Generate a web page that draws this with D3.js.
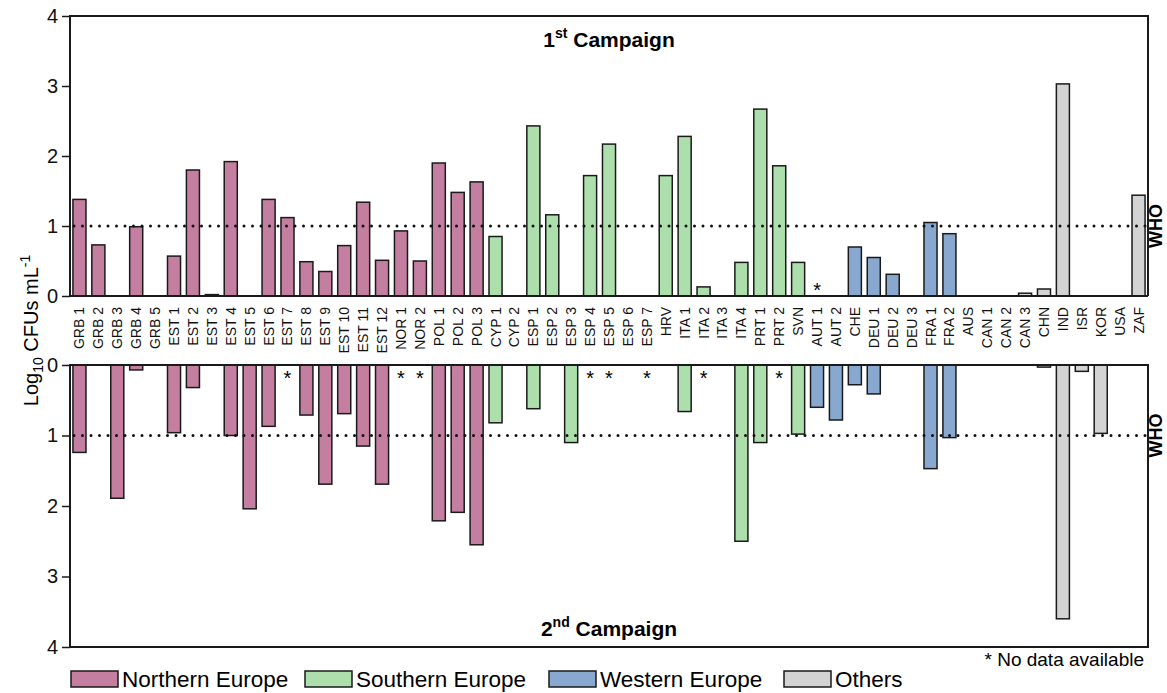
<!DOCTYPE html>
<html>
<head>
<meta charset="utf-8">
<script src="https://cdn.jsdelivr.net/npm/d3@7"></script>
<style>
  body { margin: 0; background: #fff; }
  svg { font-family: "Liberation Sans", Arial, sans-serif; }
</style>
</head>
<body>
<div id="chart"></div>
<script>
// sites, in plotting order
const sites = [
  "GRB 1", "GRB 2", "GRB 3", "GRB 4", "GRB 5",
  "EST 1", "EST 2", "EST 3", "EST 4", "EST 5", "EST 6", "EST 7", "EST 8", "EST 9", "EST 10", "EST 11", "EST 12",
  "NOR 1", "NOR 2", "POL 1", "POL 2", "POL 3",
  "CYP 1", "CYP 2", "ESP 1", "ESP 2", "ESP 3", "ESP 4", "ESP 5", "ESP 6", "ESP 7",
  "HRV", "ITA 1", "ITA 2", "ITA 3", "ITA 4", "PRT 1", "PRT 2", "SVN",
  "AUT 1", "AUT 2", "CHE", "DEU 1", "DEU 2", "DEU 3", "FRA 1", "FRA 2",
  "AUS", "CAN 1", "CAN 2", "CAN 3", "CHN", "IND", "ISR", "KOR", "USA", "ZAF"
];

// region of each site (index into regionNames)
const siteRegion = [
  0, 0, 0, 0, 0,
  0, 0, 0, 0, 0, 0, 0, 0, 0, 0, 0, 0,
  0, 0, 0, 0, 0,
  1, 1, 1, 1, 1, 1, 1, 1, 1,
  1, 1, 1, 1, 1, 1, 1, 1,
  2, 2, 2, 2, 2, 2, 2, 2,
  3, 3, 3, 3, 3, 3, 3, 3, 3, 3
];

const regionNames = ["Northern Europe", "Southern Europe", "Western Europe", "Others"];
const regionColors = ["#c47ea0", "#addfad", "#89a8d0", "#d3d3d3"];

// log10 CFUs/mL, null = no data available
const campaign1 = [
  1.38, 0.73, 0, 0.99, 0,
  0.57, 1.80, 0.02, 1.92, 0, 1.38, 1.12, 0.49, 0.35, 0.72, 1.34, 0.51,
  0.93, 0.50, 1.90, 1.48, 1.63,
  0.85, 0, 2.43, 1.16, 0, 1.72, 2.17, 0, 0,
  1.72, 2.28, 0.13, 0, 0.48, 2.67, 1.86, 0.48,
  null, 0, 0.70, 0.55, 0.31, 0, 1.05, 0.89,
  0, 0, 0, 0.04, 0.10, 3.03, 0, 0, 0, 1.44
];

const campaign2 = [
  1.24, 0, 1.89, 0.07, 0,
  0.96, 0.32, 0, 1.00, 2.04, 0.87, null, 0.71, 1.69, 0.69, 1.15, 1.69,
  null, null, 2.21, 2.09, 2.55,
  0.82, 0, 0.62, 0, 1.10, null, null, 0, null,
  0, 0.66, null, 0, 2.50, 1.10, null, 0.98,
  0.60, 0.78, 0.28, 0.41, 0, 0, 1.47, 1.03,
  0, 0, 0, 0, 0.03, 3.60, 0.09, 0.97, 0, 0
];

const yTicks = [0, 1, 2, 3, 4];
const whoLimit = 1;

const W = 1167, H = 693;
const left = 70, right = 1148;
const top1 = 16, base1 = 296;   // 1st campaign panel
const base2 = 365, bot2 = 647;  // 2nd campaign panel

const svg = d3.select("#chart").append("svg")
  .attr("width", W).attr("height", H);

const rows = sites.map((s, i) => ({ site: s, region: siteRegion[i], v1: campaign1[i], v2: campaign2[i] }));

const x = d3.scaleBand().domain(sites).range([left, right])
  .paddingInner(0.31).paddingOuter(0.155);
const y1 = d3.scaleLinear().domain([0, 4]).range([base1, top1]);
const y2 = d3.scaleLinear().domain([0, 4]).range([base2, bot2]);

// bars, 1st campaign (upwards)
svg.append("g").selectAll("rect")
  .data(rows.filter(d => d.v1 > 0))
  .join("rect")
  .attr("x", d => x(d.site))
  .attr("width", x.bandwidth())
  .attr("y", d => y1(d.v1))
  .attr("height", d => Math.max(1.5, y1(0) - y1(d.v1)))
  .attr("fill", d => regionColors[d.region])
  .attr("stroke", "#1a1a1a").attr("stroke-width", 1.5);

// bars, 2nd campaign (downwards)
svg.append("g").selectAll("rect")
  .data(rows.filter(d => d.v2 > 0))
  .join("rect")
  .attr("x", d => x(d.site))
  .attr("width", x.bandwidth())
  .attr("y", y2(0))
  .attr("height", d => Math.max(1.5, y2(d.v2) - y2(0)))
  .attr("fill", d => regionColors[d.region])
  .attr("stroke", "#1a1a1a").attr("stroke-width", 1.5);

// WHO guide lines
[y1(whoLimit), y2(whoLimit)].forEach(yy => {
  svg.append("line")
    .attr("x1", left + 4).attr("x2", right - 2)
    .attr("y1", yy).attr("y2", yy)
    .attr("stroke", "#111").attr("stroke-width", 3)
    .attr("stroke-linecap", "round")
    .attr("stroke-dasharray", "0,8.5");
  svg.append("text")
    .attr("transform", `translate(${right + 14},${yy}) rotate(-90)`)
    .attr("text-anchor", "middle")
    .attr("font-size", 18).attr("font-weight", "bold")
    .text("WHO");
});

// frames
const frame = svg.append("g").attr("fill", "none").attr("stroke", "#1a1a1a").attr("stroke-width", 2);
frame.append("path").attr("d", `M${left},${base1}V${top1}H${right}V${base1}`);
frame.append("line").attr("x1", left).attr("x2", right).attr("y1", base1).attr("y2", base1);
frame.append("rect").attr("x", left).attr("y", base2).attr("width", right - left).attr("height", bot2 - base2);

// y axes
[y1, y2].forEach(sc => {
  const g = svg.append("g")
    .attr("transform", `translate(${left},0)`)
    .call(d3.axisLeft(sc).tickValues(yTicks).tickSize(8).tickPadding(4).tickFormat(d3.format("d")));
  g.select(".domain").remove();
  g.selectAll("line").attr("stroke", "#1a1a1a").attr("stroke-width", 1.5);
  g.selectAll("text").attr("font-size", 20).attr("fill", "#111")
    .attr("font-family", "'Liberation Sans', Arial, sans-serif");
});

// site labels between the panels
svg.append("g").selectAll("text")
  .data(sites)
  .join("text")
  .attr("transform", d => `translate(${x(d) + x.bandwidth() / 2 + 5},307) rotate(-90)`)
  .attr("text-anchor", "end")
  .attr("font-size", 14).attr("fill", "#111")
  .text(d => d);

// no data asterisks
svg.append("g").selectAll("text")
  .data(rows.filter(d => d.v1 === null))
  .join("text")
  .attr("x", d => x(d.site) + x.bandwidth() / 2)
  .attr("y", 297)
  .attr("text-anchor", "middle").attr("font-size", 20)
  .text("*");
svg.append("g").selectAll("text")
  .data(rows.filter(d => d.v2 === null))
  .join("text")
  .attr("x", d => x(d.site) + x.bandwidth() / 2)
  .attr("y", 385)
  .attr("text-anchor", "middle").attr("font-size", 20)
  .text("*");

// campaign titles
const mid = (left + right) / 2;
function campaignTitle(yy, num, sup) {
  const t = svg.append("text")
    .attr("x", mid).attr("y", yy)
    .attr("text-anchor", "middle")
    .attr("font-size", 21).attr("font-weight", "bold");
  t.append("tspan").text(num);
  t.append("tspan").attr("font-size", 14).attr("dy", -9).text(sup);
  t.append("tspan").attr("dy", 9).text(" Campaign");
}
campaignTitle(47, "1", "st");
campaignTitle(636, "2", "nd");

// y axis title
const yt = svg.append("text")
  .attr("transform", `translate(38,${(base1 + base2) / 2}) rotate(-90)`)
  .attr("text-anchor", "middle")
  .attr("font-size", 20);
yt.append("tspan").text("Log");
yt.append("tspan").attr("font-size", 14).attr("dy", 5).text("10");
yt.append("tspan").attr("dy", -5).text(" CFUs mL");
yt.append("tspan").attr("font-size", 14).attr("dy", -8).text("-1");

// legend
const legendX = [71, 305, 549, 784];
const legend = svg.append("g");
regionNames.forEach((name, i) => {
  legend.append("rect")
    .attr("x", legendX[i]).attr("y", 671)
    .attr("width", 47).attr("height", 16)
    .attr("fill", regionColors[i])
    .attr("stroke", "#1a1a1a").attr("stroke-width", 1.5);
  legend.append("text")
    .attr("x", legendX[i] + 51).attr("y", 687)
    .attr("font-size", 22.5)
    .text(name);
});

svg.append("text")
  .attr("x", right - 4).attr("y", 666)
  .attr("text-anchor", "end")
  .attr("font-size", 19)
  .text("* No data available");
</script>
</body>
</html>
